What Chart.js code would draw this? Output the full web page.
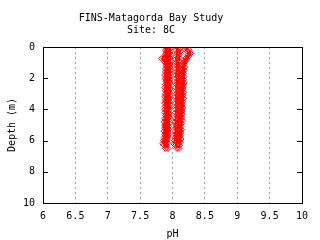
<!DOCTYPE html>
<html><head><meta charset="utf-8">
<script src="https://cdn.jsdelivr.net/npm/chart.js@4"></script>
<style>html,body{margin:0;padding:0;background:#fff}canvas{display:block}</style>
</head><body>
<canvas id="c" width="320" height="240"></canvas>
<script>
const titleLines = ["FINS-Matagorda Bay Study", "Site: 8C"];
const xTitle = "pH";
const yTitle = "Depth (m)";
const xTicks = [6, 6.5, 7, 7.5, 8, 8.5, 9, 9.5, 10];
const yTicks = [0, 2, 4, 6, 8, 10];

const depthA = [0.0, 0.2, 0.4, 0.6, 0.8, 1.0, 1.2, 1.4, 1.6, 1.8, 2.0, 2.2, 2.4, 2.6, 2.8, 3.0, 3.2, 3.4, 3.6, 3.8, 4.0, 4.2, 4.4, 4.6, 4.8, 5.0, 5.2, 5.4, 5.6, 5.8, 6.0, 6.2];
const depthB = [0.1, 0.3, 0.5, 0.7, 0.9, 1.1, 1.3, 1.5, 1.7, 1.9, 2.1, 2.3, 2.5, 2.7, 2.9, 3.1, 3.3, 3.5, 3.7, 3.9, 4.1, 4.3, 4.5, 4.7, 4.9, 5.1, 5.3, 5.5, 5.7, 5.9, 6.1, 6.3, 6.5];
const depthOut = [0.5, 0.75, 1.0];

const phL1 = [7.90, 7.89, 7.90, 7.89, 7.88, 7.89, 7.90, 7.89, 7.89, 7.88, 7.89, 7.90, 7.89, 7.88, 7.89, 7.89, 7.88, 7.89, 7.88, 7.89, 7.88, 7.88, 7.89, 7.88, 7.87, 7.88, 7.88, 7.87, 7.88, 7.87, 7.86, 7.85];
const phL3 = [7.95, 7.94, 7.95, 7.94, 7.93, 7.94, 7.95, 7.94, 7.94, 7.93, 7.94, 7.95, 7.94, 7.93, 7.94, 7.94, 7.93, 7.94, 7.93, 7.94, 7.93, 7.93, 7.94, 7.93, 7.92, 7.93, 7.93, 7.92, 7.93, 7.92, 7.91, 7.90];
const phR1 = [8.07, 8.06, 8.07, 8.06, 8.05, 8.06, 8.07, 8.06, 8.06, 8.05, 8.06, 8.07, 8.06, 8.05, 8.06, 8.06, 8.05, 8.06, 8.05, 8.06, 8.05, 8.05, 8.06, 8.05, 8.04, 8.05, 8.05, 8.04, 8.05, 8.04, 8.03, 8.02];
const phR3 = [8.20, 8.26, 8.28, 8.25, 8.22, 8.18, 8.16, 8.15, 8.16, 8.15, 8.14, 8.15, 8.16, 8.15, 8.14, 8.15, 8.14, 8.13, 8.14, 8.13, 8.14, 8.13, 8.12, 8.13, 8.12, 8.12, 8.11, 8.12, 8.11, 8.10, 8.10, 8.09];
const phL2 = [7.92, 7.91, 7.92, 7.93, 7.92, 7.91, 7.92, 7.91, 7.92, 7.91, 7.90, 7.91, 7.92, 7.91, 7.91, 7.90, 7.91, 7.90, 7.91, 7.92, 7.91, 7.90, 7.90, 7.91, 7.90, 7.89, 7.90, 7.89, 7.89, 7.88, 7.88, 7.87, 7.89];
const phL4 = [7.97, 7.96, 7.97, 7.96, 7.97, 7.96, 7.96, 7.97, 7.96, 7.95, 7.96, 7.96, 7.95, 7.96, 7.95, 7.96, 7.95, 7.95, 7.96, 7.95, 7.94, 7.95, 7.95, 7.94, 7.95, 7.94, 7.94, 7.93, 7.93, 7.92, 7.92, 7.91, 7.93];
const phR2 = [8.11, 8.12, 8.10, 8.11, 8.10, 8.09, 8.10, 8.11, 8.10, 8.09, 8.10, 8.09, 8.10, 8.11, 8.10, 8.09, 8.10, 8.09, 8.09, 8.08, 8.09, 8.08, 8.09, 8.08, 8.08, 8.07, 8.08, 8.07, 8.06, 8.07, 8.06, 8.05, 8.07];
const phR4 = [8.19, 8.23, 8.24, 8.21, 8.19, 8.18, 8.19, 8.18, 8.17, 8.18, 8.17, 8.18, 8.17, 8.16, 8.17, 8.16, 8.17, 8.16, 8.15, 8.16, 8.15, 8.15, 8.14, 8.15, 8.14, 8.13, 8.14, 8.13, 8.12, 8.13, 8.12, 8.11, 8.10];
const phOut = [7.89, 7.83, 7.89];

const seriesList = [
  [phL1, depthA], [phL2, depthB], [phL3, depthA], [phL4, depthB],
  [phR1, depthA], [phR2, depthB], [phR3, depthA], [phR4, depthB],
  [phOut, depthOut]
];

function pts(ph, d) { return ph.map((v, i) => ({x: v, y: d[i]})); }

const FONT = {family: "'DejaVu Sans Mono', monospace", size: 10};

const frame = {
  id: 'frame',
  afterDraw(chart) {
    const ctx = chart.ctx, a = chart.chartArea, ys = chart.scales.y;
    ctx.save();
    ctx.strokeStyle = '#000';
    ctx.lineWidth = 1;
    ctx.strokeRect(Math.round(a.left) + 0.5, Math.round(a.top) + 0.5, Math.round(a.right - a.left), Math.round(a.bottom - a.top));
    yTicks.forEach(v => {
      if (v === 0 || v === 10) return;
      const p = Math.round(ys.getPixelForValue(v)) + 0.5;
      ctx.beginPath();
      ctx.moveTo(a.left, p); ctx.lineTo(a.left + 5, p);
      ctx.moveTo(a.right, p); ctx.lineTo(a.right - 5, p);
      ctx.stroke();
    });
    ctx.restore();
  }
};

new Chart(document.getElementById('c'), {
  type: 'scatter',
  data: {
    datasets: seriesList.map(s => ({
      data: pts(s[0], s[1]),
      showLine: true,
      borderColor: '#ff0000',
      backgroundColor: 'rgba(0,0,0,0)',
      borderWidth: 1.5,
      pointStyle: 'rectRot',
      pointRadius: 3,
      pointBorderColor: '#ff0000',
      pointBorderWidth: 1
    }))
  },
  options: {
    responsive: false,
    animation: false,
    devicePixelRatio: 1,
    layout: {padding: {left: 0, right: 18, top: 0, bottom: 0}},
    plugins: {
      legend: {display: false},
      tooltip: {enabled: false},
      title: {
        display: true,
        text: titleLines,
        color: '#000',
        font: {family: FONT.family, size: 10, weight: 'normal', lineHeight: 1.2},
        padding: {top: 12, bottom: 11}
      }
    },
    scales: {
      x: {
        type: 'linear', min: 6, max: 10,
        afterBuildTicks(s) { s.ticks = xTicks.map(v => ({value: v})); },
        afterFit(s) { s.height = 37; },
        border: {display: false, dash: [2, 3]},
        grid: {color: '#a0a0a0', drawTicks: false, tickLength: 0},
        ticks: {color: '#000', font: FONT, padding: 7, maxRotation: 0, autoSkip: false, callback: v => String(v)},
        title: {display: true, text: xTitle, color: '#000', font: FONT, padding: {top: 0, bottom: 0}}
      },
      y: {
        type: 'linear', min: 0, max: 10, reverse: true,
        afterBuildTicks(s) { s.ticks = yTicks.map(v => ({value: v})); },
        afterFit(s) { s.width = 43; },
        border: {display: false},
        grid: {display: false, drawTicks: false},
        ticks: {color: '#000', font: FONT, padding: 8, callback: v => String(v)},
        title: {display: true, text: yTitle, color: '#000', font: FONT, padding: {top: 6, bottom: 0}}
      }
    }
  },
  plugins: [frame]
});
</script>
</body></html>
